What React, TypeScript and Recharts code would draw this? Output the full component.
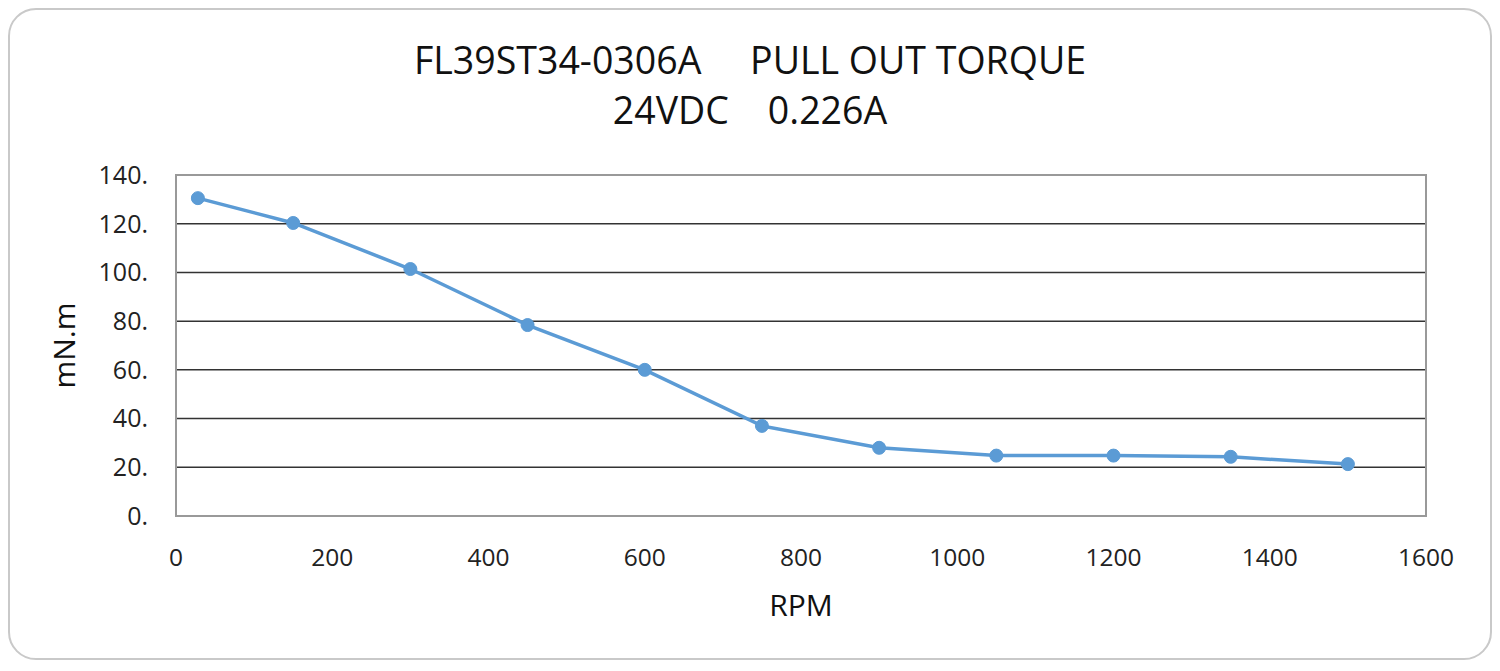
import React from 'react';
import { LineChart, Line, XAxis, YAxis, CartesianGrid, ReferenceArea, Label } from 'recharts';

const rpm = [28, 150, 300, 450, 600, 750, 900, 1050, 1200, 1350, 1500];
const torque = [130.5, 120.3, 101.4, 78.4, 60, 37, 28, 24.8, 24.8, 24.3, 21.3];
const xTicks = [0, 200, 400, 600, 800, 1000, 1200, 1400, 1600];
const yTicks = [0, 20, 40, 60, 80, 100, 120, 140];
const titleLine1 = 'FL39ST34-0306A\u00a0\u00a0\u00a0\u00a0\u00a0PULL OUT TORQUE';
const titleLine2 = '24VDC\u00a0\u00a0\u00a0\u00a00.226A';

const data = rpm.map((r, i) => ({ rpm: r, torque: torque[i] }));
const FONT = "'Open Sans', 'Noto Sans', sans-serif";

export default function App() {
  return (
    <div style={{ position: 'absolute', left: 0, top: 0, width: 1500, height: 671, background: '#fff', fontFamily: FONT }}>
      <div style={{ position: 'absolute', left: 8, top: 8, width: 1480, height: 648, border: '2px solid #c9c9c9', borderRadius: 28 }} />
      <div style={{ position: 'absolute', left: 0, top: 35, width: 1500, textAlign: 'center', fontSize: 37.5, lineHeight: '50px', color: '#111' }}>
        <div>{titleLine1}</div>
        <div>{titleLine2}</div>
      </div>
      <div style={{ position: 'absolute', left: 0, top: 0 }}>
        <LineChart width={1500} height={671} data={data} margin={{ top: 175, right: 74, bottom: 95, left: 96 }}>
          <CartesianGrid vertical={false} stroke="#333" strokeWidth={1.5} />
          <ReferenceArea x1={0} x2={1600} y1={0} y2={140} fill="none" stroke="#999" strokeWidth={2} ifOverflow="visible" />
          <XAxis
            dataKey="rpm"
            type="number"
            domain={[0, 1600]}
            ticks={xTicks}
            axisLine={false}
            tickLine={false}
            tickMargin={27}
            height={60}
            tick={{ fontSize: 24.5, fill: '#222', fontFamily: FONT }}
          >
            <Label value="RPM" position="bottom" offset={19} style={{ fontSize: 30, fill: '#111', fontFamily: FONT }} />
          </XAxis>
          <YAxis
            type="number"
            domain={[0, 140]}
            ticks={yTicks}
            axisLine={false}
            tickLine={false}
            width={80}
            tickMargin={22}
            tickFormatter={(v: number) => `${v}.`}
            tick={{ fontSize: 25, fill: '#222', fontFamily: FONT }}
          >
            <Label value="mN.m" angle={-90} position="left" offset={32} style={{ fontSize: 30, fill: '#111', fontFamily: FONT, textAnchor: 'middle' }} />
          </YAxis>
          <Line
            type="linear"
            dataKey="torque"
            stroke="#5b9bd5"
            strokeWidth={3.5}
            dot={{ r: 6.5, fill: '#5b9bd5', stroke: '#5b9bd5', strokeWidth: 1 }}
            isAnimationActive={false}
          />
        </LineChart>
      </div>
    </div>
  );
}
